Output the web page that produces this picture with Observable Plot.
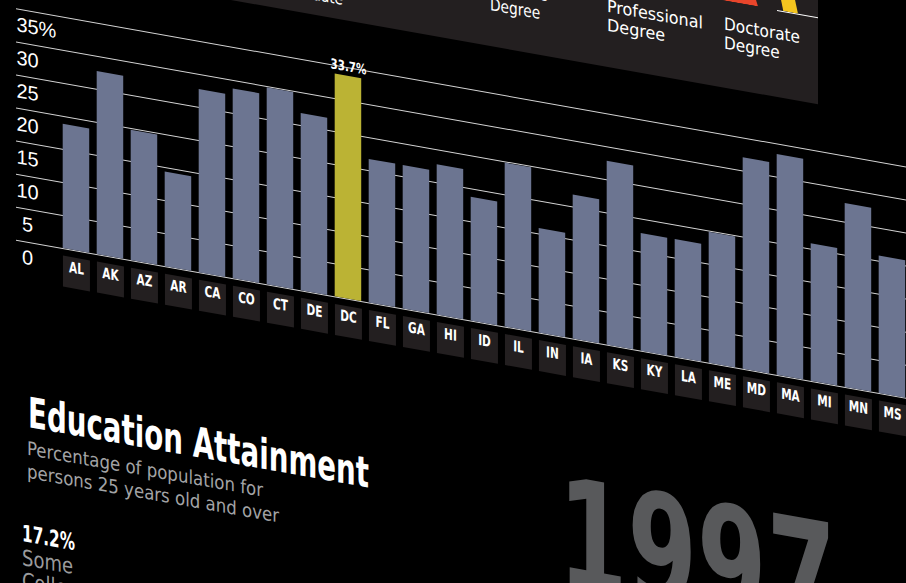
<!DOCTYPE html>
<html><head><meta charset="utf-8">
<script src="https://cdn.jsdelivr.net/npm/d3@7"></script>
<script src="https://cdn.jsdelivr.net/npm/@observablehq/plot@0.6"></script>
<style>
html,body{margin:0;padding:0;background:#000;width:906px;height:583px;overflow:hidden;}
#stage{position:absolute;left:0;top:0;width:906px;height:583px;transform:skewY(10.07deg);transform-origin:0 0;}
.abs{position:absolute;white-space:nowrap;}
.cond{font-family:"Liberation Sans Narrow","DejaVu Sans Condensed","Arial Narrow",sans-serif;}
.fit{display:inline-block;transform-origin:0 0;}
#panel{position:absolute;left:150px;top:-400px;width:668px;height:359px;background:#231f20;}
.leg{color:#fff;font-size:17px;line-height:19px;}
</style></head>
<body><div id="stage"></div>
<script>
// ---- data ----
const states = ["AL","AK","AZ","AR","CA","CO","CT","DE","DC","FL","GA","HI","ID","IL","IN","IA","KS","KY","LA","ME","MD","MA","MI","MN","MS"];
const values = [18.8,27.7,19.7,14.3,27.7,28.7,29.8,26.8,33.7,21.7,21.7,22.7,18.7,24.8,15.8,21.8,27.8,17.8,17.8,19.8,32.0,33.4,20.8,27.8,20.8];
const highlight = "DC";
const yTicks = [0,5,10,15,20,25,30,35];
const legendLabels = [["High","School","Graduate"],["Bachelor's","Degree"],["Master's","Degree"],["Professional","Degree"],["Doctorate","Degree"]];
const titleText = "Education Attainment";
const subtitleLines = ["Percentage of population for","persons 25 years old and over"];
const nationalValue = "17.2%";
const nationalLabel = ["Some","College"];
const yearText = "1997";

// ---- layout ----
const stage = document.getElementById("stage");
const condFont = '"Liberation Sans Narrow","DejaVu Sans Condensed","Arial Narrow",sans-serif';

const panel = document.createElement("div");
panel.id = "panel";
stage.appendChild(panel);

// partial stacked legend graphic at the top of the panel
function addShape(color, clip, l, t, w, h){
  const d = document.createElement("div");
  d.className = "abs";
  Object.assign(d.style,{left:l+"px",top:t+"px",width:w+"px",height:h+"px",background:color,clipPath:clip});
  stage.appendChild(d);
}
addShape("#ffffff","none",777,-128.5,41,1.2);
addShape("#e8452b","polygon(0 0, 88% 0, 100% 100%, 0 100%)",680,-158,78,30);
addShape("#f4c51f","polygon(0 0, 68% 0, 100% 100%, 30% 100%)",777,-158,21,30);

const legPos = [[279,-109],[373,-111.5],[490,-111.5],[607,-111.5],[724,-114.5]];
const legWidths = [64,70,58,96,76];

function makeLines(lines){ return lines.map(l=>`<span>${l}</span>`).join("<br>"); }

legendLabels.forEach((lines,i)=>{
  const d = document.createElement("div");
  d.className = "abs cond leg fit";
  d.style.left = legPos[i][0]+"px"; d.style.top = legPos[i][1]+"px";
  d.innerHTML = makeLines(lines);
  d.dataset.fit = legWidths[i];
  let longest = 0; lines.forEach((l,j)=>{ if (l.length > lines[longest].length) longest = j; });
  d.dataset.line = longest;
  stage.appendChild(d);
});

// ---- chart ----
const data = states.map((s,i)=>({state:s, value:values[i]}));
const boxSymbol = {draw(ctx){ ctx.rect(-13.5,-15.5,27,31); }};
const chart = Plot.plot({
  width: 906, height: 300,
  marginLeft: 16, marginRight: 0, marginTop: 25.5, marginBottom: 43.1,
  style: {background:"transparent", overflow:"visible"},
  x: {type:"band", domain: states, range:[62.7,905.2], paddingInner:0.22, paddingOuter:0, round:false, axis:null},
  y: {domain:[0,35], axis:null},
  color: {domain:["other","highlight"], range:["#6c7591","#bbb334"]},
  marks: [
    Plot.ruleY(yTicks, {stroke:"#d4d4d4", strokeWidth:1}),
    Plot.text(yTicks, {y:d=>d, text:d=>String(d), frameAnchor:"left", dx:11, dy:8, textAnchor:"middle", lineAnchor:"top", fill:"#fff", fontSize:20, fontFamily:"Liberation Sans, Arial, sans-serif"}),
    Plot.text([yTicks[yTicks.length-1]], {y:d=>d, text:()=>"%", frameAnchor:"left", dx:22, dy:8, textAnchor:"start", lineAnchor:"top", fill:"#fff", fontSize:20, fontFamily:"Liberation Sans, Arial, sans-serif"}),
    Plot.barY(data, {x:"state", y:"value", fill:d=>d.state===highlight?"highlight":"other"}),
    Plot.dot(states, {x:d=>d, frameAnchor:"bottom", dy:22.5, symbol:boxSymbol, fill:"#231f20", stroke:"none"}),
    Plot.text(states, {x:d=>d, frameAnchor:"bottom", dy:22.5, text:d=>d, fill:"#fff", fontWeight:"bold", fontSize:15, fontFamily:condFont, className:"statelab"}),
    Plot.text(data.filter(d=>d.state===highlight), {x:"state", y:"value", text:d=>d.value.toFixed(1)+"%", dy:-5, lineAnchor:"bottom", fill:"#fff", fontWeight:"bold", fontSize:14, fontFamily:condFont, className:"maxlab"})
  ]
});
chart.style.position = "absolute";
chart.style.left = "0px";
chart.style.top = "-20px";
chart.style.maxWidth = "none";
stage.appendChild(chart);

function squeeze(sel, k){
  chart.querySelectorAll(sel + " text, text" + sel).forEach(t=>{
    const tr = t.getAttribute("transform") || "";
    const x = +(t.getAttribute("x")||0), y = +(t.getAttribute("y")||0);
    t.setAttribute("transform", `${tr} translate(${x},${y}) scale(${k},1) translate(${-x},${-y})`);
  });
}
squeeze(".statelab", 0.78);
squeeze(".maxlab", 0.82);

// ---- titles ----
function addText(lines, l, t, styles, fitW, fitLine){
  const d = document.createElement("div");
  d.className = "abs cond" + (fitW ? " fit" : "");
  d.style.left = l+"px"; d.style.top = t+"px";
  Object.assign(d.style, styles);
  d.innerHTML = makeLines(lines);
  if (fitW) { d.dataset.fit = fitW; d.dataset.line = fitLine || 0; }
  stage.appendChild(d);
  return d;
}
addText([titleText], 28, 387.3, {color:"#fff",fontSize:"42px",lineHeight:"42px",fontWeight:"bold"}, 341);
addText(subtitleLines, 27, 432, {color:"#a3a4a6",fontSize:"19px",lineHeight:"22.5px"}, 252, 1);
addText([nationalValue], 22, 518, {color:"#fff",fontSize:"23px",lineHeight:"23px",fontWeight:"bold"}, 53);
addText(nationalLabel, 22, 542, {color:"#9a9b9d",fontSize:"22px",lineHeight:"23px"}, 51, 0);
addText([yearText], 558, 358, {color:"#58595b",fontSize:"152px",lineHeight:"152px",fontWeight:"bold"}, 278);

// fit widths (by a chosen line)
document.querySelectorAll("[data-fit]").forEach(el=>{
  const spans = el.querySelectorAll("span");
  const span = spans[+el.dataset.line || 0] || el;
  const w = span.getBoundingClientRect().width;
  el.style.transform = `scaleX(${(+el.dataset.fit) / w})`;
});
</script>
</body></html>
